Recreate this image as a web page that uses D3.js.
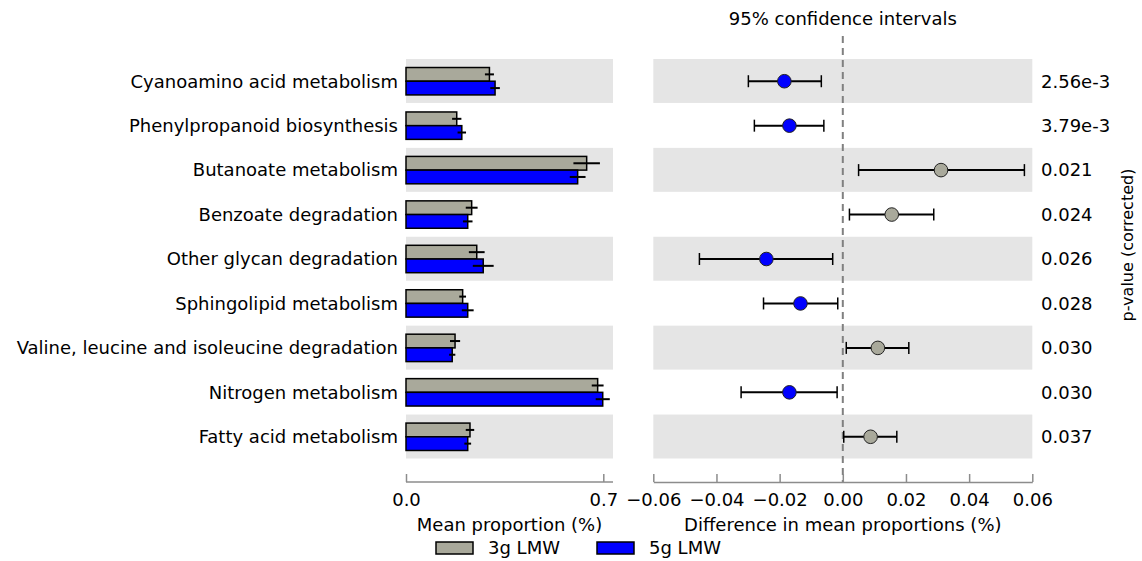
<!DOCTYPE html>
<html>
<head>
<meta charset="utf-8">
<script src="https://cdn.jsdelivr.net/npm/d3@7"></script>
<style>
  html, body { margin: 0; padding: 0; background: #fff; }
  svg { display: block; font-family: "DejaVu Sans", sans-serif; }
</style>
</head>
<body>
<svg id="chart" width="1142" height="561"></svg>
<script>
// Pathways compared between the two groups
const categories = [
  "Cyanoamino acid metabolism",
  "Phenylpropanoid biosynthesis",
  "Butanoate metabolism",
  "Benzoate degradation",
  "Other glycan degradation",
  "Sphingolipid metabolism",
  "Valine, leucine and isoleucine degradation",
  "Nitrogen metabolism",
  "Fatty acid metabolism"
];
const pValues = ["2.56e-3", "3.79e-3", "0.021", "0.024", "0.026", "0.028", "0.030", "0.030", "0.037"];

// Mean proportion (%) and its spread per group
const groups = ["3g LMW", "5g LMW"];
const mean3g = [0.296, 0.180, 0.641, 0.233, 0.251, 0.201, 0.174, 0.680, 0.227];
const err3g  = [0.016, 0.0165, 0.047, 0.021, 0.028, 0.012, 0.018, 0.021, 0.015];
const mean5g = [0.316, 0.198, 0.609, 0.219, 0.274, 0.219, 0.164, 0.698, 0.219];
const err5g  = [0.017, 0.015, 0.028, 0.017, 0.037, 0.021, 0.011, 0.025, 0.012];

// Difference in mean proportions (%) with 95% confidence interval
const diff   = [-0.0185, -0.0169, 0.0311, 0.0155, -0.0242, -0.0134, 0.0111, -0.0169, 0.0088];
const ciLow  = [-0.0299, -0.0280, 0.0050, 0.0021, -0.0454, -0.0251, 0.0011, -0.0322, 0.0003];
const ciHigh = [-0.0068, -0.0060, 0.0575, 0.0288, -0.0032, -0.0016, 0.0209, -0.0018, 0.0171];

// Axis ticks
const leftTicks = [0.0, 0.7];
const rightTicks = [-0.06, -0.04, -0.02, 0.00, 0.02, 0.04, 0.06];

const colors = { "3g LMW": "#a9a99b", "5g LMW": "#0000ff" };
const bandFill = "#e5e5e5";
const axisColor = "#8c8c8c";
const fontSize = 18;

const svg = d3.select("#chart");

const plotTop = 59, plotBottom = 459, axisY = 482;
const leftX0 = 406, leftX1 = 613;
const rightX0 = 653.3, rightX1 = 1032.3;

const y = d3.scaleBand().domain(categories).range([plotTop, plotBottom]).padding(0);
const xL = d3.scaleLinear().domain([0, 0.7]).range([leftX0, 603.3]);
const xR = d3.scaleLinear().domain([-0.06, 0.06]).range([rightX0, rightX1]);

const rows = categories.map((c, i) => ({
  name: c, i, p: pValues[i],
  m3: mean3g[i], e3: err3g[i], m5: mean5g[i], e5: err5g[i],
  d: diff[i], lo: ciLow[i], hi: ciHigh[i]
}));

// Alternating row shading in both panels
const shaded = rows.filter(r => r.i % 2 === 0);
[[leftX0, leftX1], [rightX0, rightX1]].forEach(([a, b]) => {
  svg.append("g").selectAll("rect").data(shaded).join("rect")
    .attr("x", a).attr("width", b - a)
    .attr("y", r => y(r.name)).attr("height", y.bandwidth() - 0.5)
    .attr("fill", bandFill);
});

// Category labels
svg.append("g").selectAll("text").data(rows).join("text")
  .attr("x", 398).attr("y", r => y(r.name) + y.bandwidth() / 2)
  .attr("dy", "0.35em").attr("text-anchor", "end")
  .attr("font-size", fontSize).attr("fill", "#000")
  .text(r => r.name);

// Mean proportion bars
const barH = 13.7;
const barSeries = [
  { key: "3g LMW", m: r => r.m3, e: r => r.e3, off: -barH },
  { key: "5g LMW", m: r => r.m5, e: r => r.e5, off: 0 }
];
barSeries.forEach(s => {
  const g = svg.append("g");
  g.selectAll("rect").data(rows).join("rect")
    .attr("x", xL(0))
    .attr("y", r => y(r.name) + y.bandwidth() / 2 + s.off)
    .attr("width", r => xL(s.m(r)) - xL(0))
    .attr("height", barH)
    .attr("fill", colors[s.key])
    .attr("stroke", "#000").attr("stroke-width", 1.5);
  g.selectAll("line").data(rows).join("line")
    .attr("x1", r => xL(s.m(r) - s.e(r)))
    .attr("x2", r => xL(s.m(r) + s.e(r)))
    .attr("y1", r => y(r.name) + y.bandwidth() / 2 + s.off + barH / 2)
    .attr("y2", r => y(r.name) + y.bandwidth() / 2 + s.off + barH / 2)
    .attr("stroke", "#000").attr("stroke-width", 2);
});

// Zero reference line
svg.append("line")
  .attr("x1", xR(0)).attr("x2", xR(0))
  .attr("y1", 36).attr("y2", axisY)
  .attr("stroke", "#808080").attr("stroke-width", 2)
  .attr("stroke-dasharray", "7,5");

// Confidence intervals
const ci = svg.append("g");
const cy = r => y(r.name) + y.bandwidth() / 2;
ci.selectAll("line.ci").data(rows).join("line").attr("class", "ci")
  .attr("x1", r => xR(r.lo)).attr("x2", r => xR(r.hi))
  .attr("y1", cy).attr("y2", cy)
  .attr("stroke", "#000").attr("stroke-width", 2);
ci.selectAll("line.capl").data(rows).join("line").attr("class", "capl")
  .attr("x1", r => xR(r.lo)).attr("x2", r => xR(r.lo))
  .attr("y1", r => cy(r) - 6).attr("y2", r => cy(r) + 6)
  .attr("stroke", "#000").attr("stroke-width", 1.5);
ci.selectAll("line.caph").data(rows).join("line").attr("class", "caph")
  .attr("x1", r => xR(r.hi)).attr("x2", r => xR(r.hi))
  .attr("y1", r => cy(r) - 6).attr("y2", r => cy(r) + 6)
  .attr("stroke", "#000").attr("stroke-width", 1.5);
ci.selectAll("circle").data(rows).join("circle")
  .attr("cx", r => xR(r.d)).attr("cy", cy).attr("r", 6.8)
  .attr("fill", r => r.d < 0 ? colors["5g LMW"] : colors["3g LMW"])
  .attr("stroke", "#222").attr("stroke-width", 1);

// p-values
svg.append("g").selectAll("text").data(rows).join("text")
  .attr("x", 1041).attr("y", cy).attr("dy", "0.35em")
  .attr("font-size", fontSize).attr("fill", "#000")
  .text(r => r.p);

svg.append("text")
  .attr("transform", `translate(1133, ${(plotTop + plotBottom) / 2 - 14}) rotate(-90)`)
  .attr("text-anchor", "middle").attr("font-size", 16).attr("fill", "#000")
  .text("p-value (corrected)");

svg.append("text")
  .attr("x", xR(0)).attr("y", 25)
  .attr("text-anchor", "middle").attr("font-size", fontSize).attr("fill", "#000")
  .text("95% confidence intervals");

// Bottom axes
function styleAxis(g) {
  g.select(".domain").attr("stroke", axisColor).attr("stroke-width", 1.5);
  g.selectAll(".tick line").attr("stroke", axisColor).attr("stroke-width", 1.5);
  g.selectAll(".tick text").attr("font-size", fontSize).attr("fill", "#000")
    .attr("font-family", "DejaVu Sans, sans-serif");
}
const axL = d3.axisBottom(xL).tickValues(leftTicks).tickFormat(d3.format(".1f"))
  .tickSizeInner(-8).tickSizeOuter(0).tickPadding(11);
const gL = svg.append("g").attr("transform", `translate(0,${axisY})`).call(axL);
gL.select(".domain").attr("d", `M${leftX0},0H${leftX1}`);
styleAxis(gL);

const axR = d3.axisBottom(xR).tickValues(rightTicks).tickFormat(d3.format(".2f"))
  .tickSizeInner(-8).tickSizeOuter(0).tickPadding(11);
const gR = svg.append("g").attr("transform", `translate(0,${axisY})`).call(axR);
styleAxis(gR);

svg.append("text").attr("x", (leftX0 + leftX1) / 2).attr("y", 531)
  .attr("text-anchor", "middle").attr("font-size", fontSize).attr("fill", "#000")
  .text("Mean proportion (%)");
svg.append("text").attr("x", xR(0)).attr("y", 531)
  .attr("text-anchor", "middle").attr("font-size", fontSize).attr("fill", "#000")
  .text("Difference in mean proportions (%)");

// Legend
const legendX = [436, 597];
const lg = svg.append("g").selectAll("g").data(groups).join("g")
  .attr("transform", (d, i) => `translate(${legendX[i]},542)`);
lg.append("rect").attr("width", 37).attr("height", 12)
  .attr("fill", d => colors[d]).attr("stroke", "#000").attr("stroke-width", 1.5);
lg.append("text").attr("x", 52).attr("y", 6).attr("dy", "0.35em")
  .attr("font-size", fontSize).attr("fill", "#000").text(d => d);
</script>
</body>
</html>
